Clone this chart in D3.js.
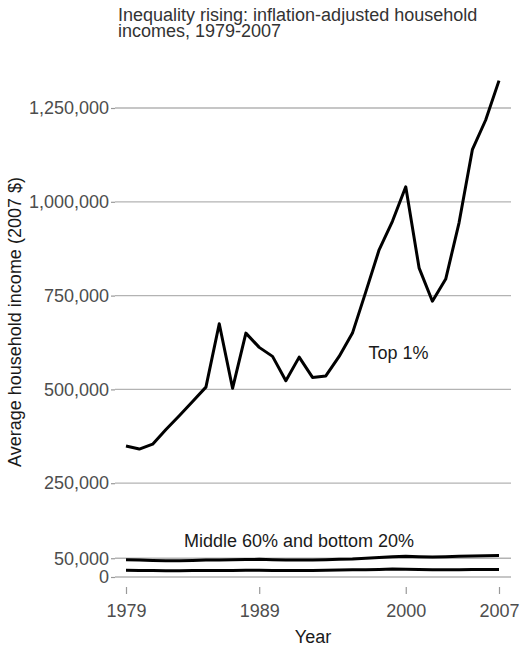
<!DOCTYPE html>
<html>
<head>
<meta charset="utf-8">
<script src="https://cdn.jsdelivr.net/npm/d3@7"></script>
<style>
  html, body { margin: 0; padding: 0; background: #fff; }
  svg { display: block; font-family: "Liberation Sans", Arial, sans-serif; }
</style>
</head>
<body>
<svg id="chart" width="520" height="648"></svg>
<script>
// ---- data (2007 dollars) ----
const years = d3.range(1979, 2008);
const top1 = [349000, 341000, 354000, 393000, 430000, 468000, 506000, 675000, 503000, 650000,
              612000, 588000, 523000, 586000, 532000, 536000, 588000, 650000, 760000, 872000,
              948000, 1040000, 824000, 735000, 794000, 944000, 1139000, 1218000, 1323000];
const middle60 = [46000, 45000, 44000, 43000, 43000, 44000, 45000, 45500, 46000, 46500,
                  47000, 46000, 45000, 45000, 45500, 46000, 47000, 48000, 50000, 52000,
                  54000, 55000, 54000, 53000, 54000, 55000, 56000, 56500, 57000];
const bottom20 = [18000, 17500, 17000, 16500, 16500, 17000, 17000, 17500, 17500, 18000,
                  18000, 17500, 17000, 17000, 17500, 18000, 18500, 19000, 19500, 20000,
                  21000, 20500, 20000, 19500, 19500, 19500, 20000, 20000, 20000];
const yTicks = [0, 50000, 250000, 500000, 750000, 1000000, 1250000];
const xTicks = [1979, 1989, 2000, 2007];
const titleLines = ["Inequality rising: inflation-adjusted household", "incomes, 1979-2007"];

// ---- layout ----
const svg = d3.select("#chart");
const panelLeft = 115, panelRight = 511;
const x = d3.scaleLinear().domain([1979, 2007]).range([126, 499]);
const y = d3.scaleLinear().domain([0, 1250000]).range([577, 108]);

// gridlines
svg.append("g").selectAll("line").data(yTicks).join("line")
  .attr("x1", panelLeft).attr("x2", panelRight)
  .attr("y1", d => y(d)).attr("y2", d => y(d))
  .attr("stroke", "#b3b3b3").attr("stroke-width", 1.3);

// y axis
const yAxis = svg.append("g").attr("transform", `translate(${panelLeft},0)`)
  .call(d3.axisLeft(y).tickValues(yTicks).tickFormat(d3.format(",")).tickSize(4).tickPadding(2));
yAxis.select(".domain").remove();
yAxis.selectAll(".tick line").attr("stroke", "#999").attr("stroke-width", 1.2);
yAxis.selectAll(".tick text").attr("font-size", 18).attr("fill", "#4d4d4d")
  .attr("font-family", "Liberation Sans, Arial, sans-serif");

// x axis
const xAxis = svg.append("g").attr("transform", "translate(0,587)")
  .call(d3.axisBottom(x).tickValues(xTicks).tickFormat(d3.format("d")).tickSize(7).tickPadding(10));
xAxis.select(".domain").remove();
xAxis.selectAll(".tick line").attr("stroke", "#999").attr("stroke-width", 1.2);
xAxis.selectAll(".tick text").attr("font-size", 18).attr("fill", "#4d4d4d")
  .attr("font-family", "Liberation Sans, Arial, sans-serif");

// lines
const line = d3.line().x((d, i) => x(years[i])).y(d => y(d));
[top1, middle60, bottom20].forEach(series => {
  svg.append("path").datum(series)
    .attr("d", line)
    .attr("fill", "none")
    .attr("stroke", "#000")
    .attr("stroke-width", 3)
    .attr("stroke-linejoin", "round");
});

// annotations
svg.append("text").attr("x", 398.5).attr("y", 359.3).attr("text-anchor", "middle")
  .attr("font-size", 18).attr("fill", "#1a1a1a").text("Top 1%");
svg.append("text").attr("x", 299).attr("y", 546.7).attr("text-anchor", "middle")
  .attr("font-size", 18).attr("fill", "#1a1a1a").text("Middle 60% and bottom 20%");

// title
svg.append("g").selectAll("text").data(titleLines).join("text")
  .attr("x", 118).attr("y", (d, i) => 20.7 + i * 16)
  .attr("font-size", 18).attr("fill", "#333")
  .text(d => d);

// axis titles
svg.append("text").attr("x", 313).attr("y", 643).attr("text-anchor", "middle")
  .attr("font-size", 18).attr("fill", "#1a1a1a").text("Year");
svg.append("text")
  .attr("transform", "translate(21,322) rotate(-90)")
  .attr("text-anchor", "middle")
  .attr("font-size", 18).attr("fill", "#1a1a1a")
  .text("Average household income (2007 $)");
</script>
</body>
</html>
